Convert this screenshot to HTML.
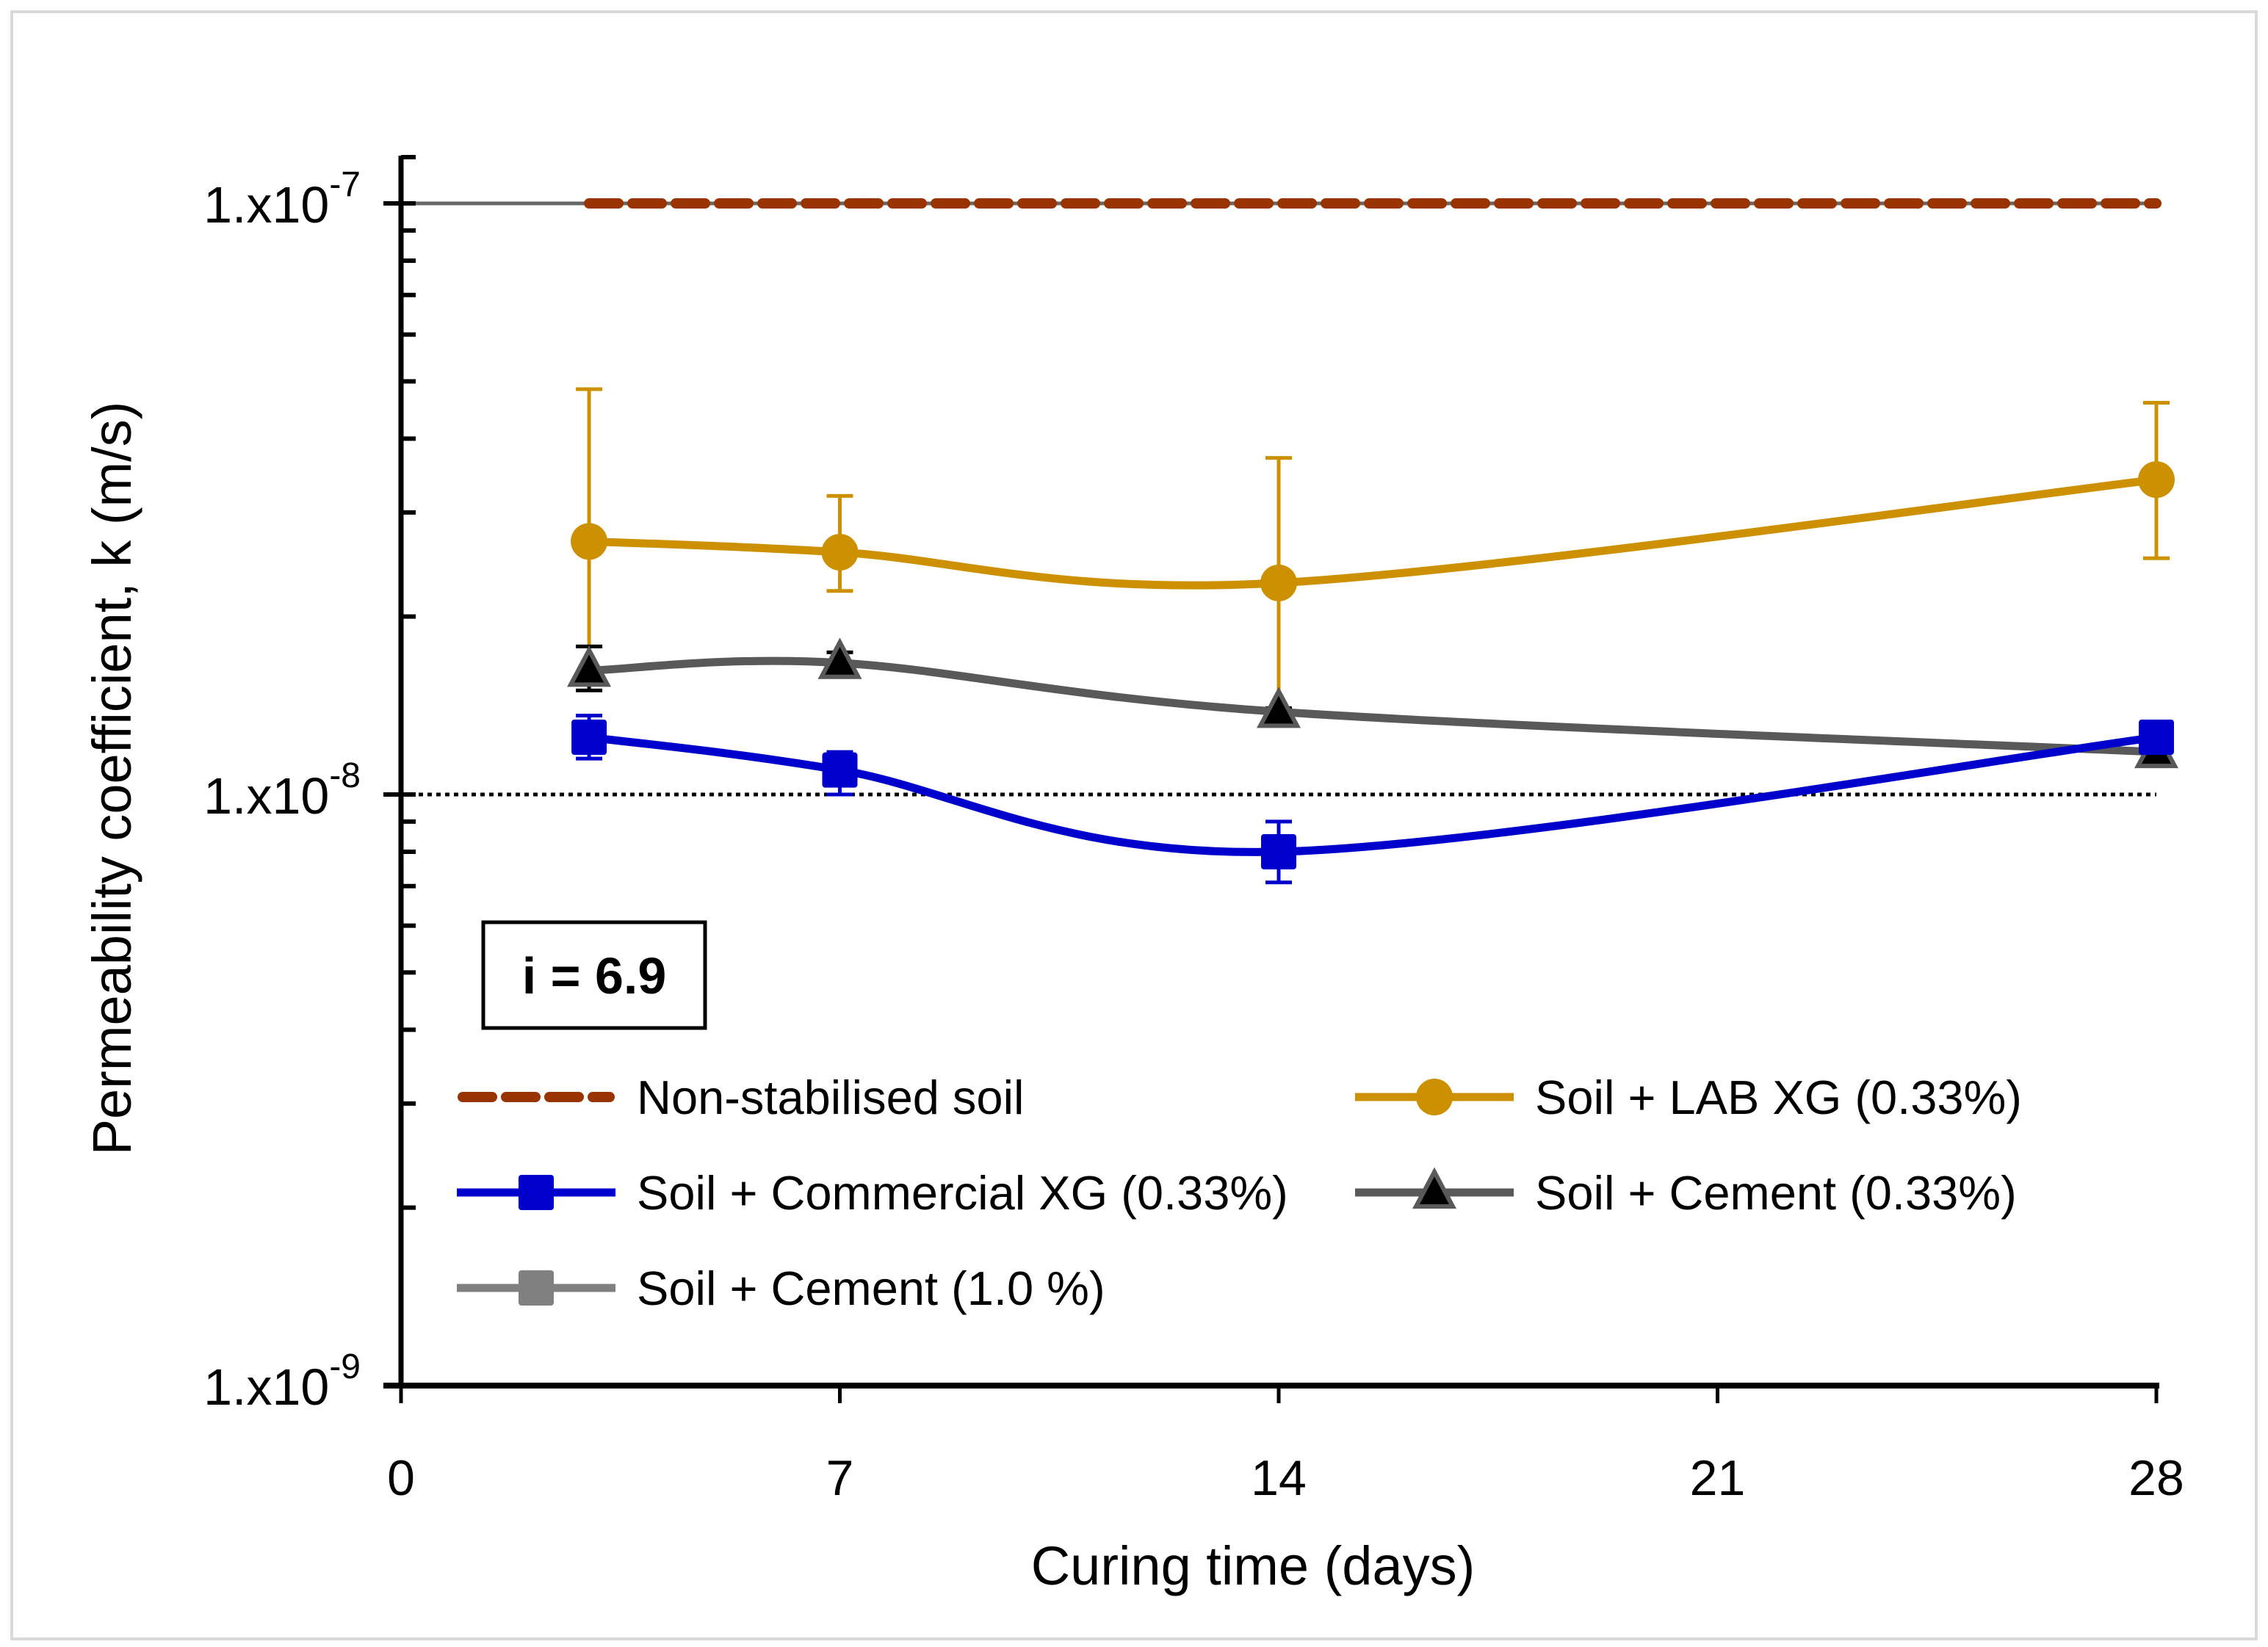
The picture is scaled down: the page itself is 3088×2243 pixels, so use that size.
<!DOCTYPE html>
<html><head><meta charset="utf-8"><style>
html,body{margin:0;padding:0;background:#fff;}
svg{display:block;font-family:"Liberation Sans",sans-serif;}
</style></head><body>
<svg id="chart" width="3088" height="2243" viewBox="0 0 3088 2243" xmlns="http://www.w3.org/2000/svg">
<rect x="16" y="16" width="3056" height="2216" fill="#fff" stroke="#d9d9d9" stroke-width="4"/>
<g id="grid"></g>
<g id="series"></g>
<g id="axes"></g>
<g>
<rect x="658" y="1256" width="302" height="144" fill="#fff" stroke="#000" stroke-width="5"/>
<text x="809" y="1353" text-anchor="middle" font-size="70" font-weight="bold">i = 6.9</text>
</g>
<g id="legend"></g>
<text x="1706" y="2158" text-anchor="middle" font-size="74">Curing time (days)</text>
<text transform="translate(178,1060) rotate(-90)" text-anchor="middle" font-size="74">Permeability coefficient, k (m/s)</text>
</svg>
<script>
const days = [3, 7, 14, 28];
const labXG = [2.68e-8, 2.57e-8, 2.28e-8, 3.41e-8];
const labXGHi = [4.85e-8, 3.2e-8, 3.71e-8, 4.6e-8];
const labXGLo = [1.78e-8, 2.21e-8, 1.38e-8, 2.51e-8];
const comXG = [1.25e-8, 1.10e-8, 8.0e-9, 1.25e-8];
const comXGHi = [1.36e-8, 1.18e-8, 9.0e-9, 1.29e-8];
const comXGLo = [1.15e-8, 1.0e-8, 7.1e-9, 1.21e-8];
const cem033 = [1.62e-8, 1.67e-8, 1.38e-8, 1.18e-8];
const cem033Hi = [1.78e-8, 1.74e-8, 1.40e-8, 1.20e-8];
const cem033Lo = [1.50e-8, 1.62e-8, 1.36e-8, 1.16e-8];
const nonStab = [1e-7, 1e-7, 1e-7, 1e-7];
const xTicks = [0, 7, 14, 21, 28];
const yDecades = [-9, -8, -7];
const yTickLabels = ["1.x10", "1.x10", "1.x10"];

const NS = "http://www.w3.org/2000/svg";
const X0 = 546, X1 = 2936, Y7 = 277, DEC = 805;
function xs(d){ return X0 + (d/28)*(X1-X0); }
function ys(v){ return Y7 + (-7 - Math.log10(v))*DEC; }
function mk(tag, attrs, parent){ const e=document.createElementNS(NS,tag); for(const k in attrs) e.setAttribute(k,attrs[k]); parent.appendChild(e); return e; }
const axes=document.getElementById('axes'), ser=document.getElementById('series'), grid=document.getElementById('grid'), leg=document.getElementById('legend');

let l=mk('line',{x1:xs(0),x2:xs(28),y1:ys(1e-7),y2:ys(1e-7),stroke:'#666',"stroke-width":5},grid);


l=mk('line',{x1:xs(0),x2:xs(28),y1:ys(1e-8),y2:ys(1e-8),stroke:'#000',"stroke-width":5,"stroke-dasharray":"6 6"},grid);



l=mk('line',{x1:X0,x2:X0,y1:212,y2:ys(1e-9)+2,stroke:'#000',"stroke-width":7},axes);


l=mk('line',{x1:X0-24,x2:X1+4,y1:ys(1e-9),y2:ys(1e-9),stroke:'#000',"stroke-width":8},axes);


mk('line',{x1:X0,x2:X0+20,y1:214,y2:214,stroke:'#000',"stroke-width":6},axes);
yDecades.forEach((d,i)=>{
  const y=ys(Math.pow(10,d));
  mk('line',{x1:X0-24,x2:X0+20,y1:y,y2:y,stroke:'#000',"stroke-width":6},axes);
  const t=mk('text',{x:491,y:y+26,"text-anchor":"end","font-size":70},axes);
  
  
  t.textContent=yTickLabels[i];
  const s=mk('tspan',{dy:-36,"font-size":48},t); s.textContent=String(d);
  if(d<-7){ for(let m=2;m<=9;m++){ const yy=ys(m*Math.pow(10,d)); mk('line',{x1:X0,x2:X0+20,y1:yy,y2:yy,stroke:'#000',"stroke-width":6},axes);} }
});
xTicks.forEach(t=>{
  const x=xs(t);
  mk('line',{x1:x,x2:x,y1:ys(1e-9),y2:ys(1e-9)+24,stroke:'#000',"stroke-width":5},axes);
  const tx=mk('text',{x:x,y:2036,"text-anchor":"middle","font-size":68},axes);
  
  
  tx.textContent=t;
});

function smoothPath(pts){
  let d=`M${pts[0][0]},${pts[0][1]}`;
  for(let i=0;i<pts.length-1;i++){
    const p0=pts[Math.max(0,i-1)],p1=pts[i],p2=pts[i+1],p3=pts[Math.min(pts.length-1,i+2)];
    const c1=[p1[0]+(p2[0]-p0[0])/6,p1[1]+(p2[1]-p0[1])/6];
    const c2=[p2[0]-(p3[0]-p1[0])/6,p2[1]-(p3[1]-p1[1])/6];
    d+=` C${c1[0]},${c1[1]} ${c2[0]},${c2[1]} ${p2[0]},${p2[1]}`;
  }
  return d;
}
function errBars(vals,hi,lo,color,w,name){
  days.forEach((d,i)=>{
    const x=xs(d);
    const g=mk('g',{stroke:color,"stroke-width":w},ser);
    
    
    mk('line',{x1:x,x2:x,y1:ys(hi[i]),y2:ys(lo[i])},g);
    mk('line',{x1:x-18,x2:x+18,y1:ys(hi[i]),y2:ys(hi[i])},g);
    mk('line',{x1:x-18,x2:x+18,y1:ys(lo[i]),y2:ys(lo[i])},g);
  });
}
function marker(kind,x,y,fill,stroke,parent){
  if(kind==='circle') return mk('circle',{cx:x,cy:y,r:25,fill:fill},parent);
  if(kind==='square') return mk('rect',{x:x-24,y:y-24,width:48,height:48,rx:4,fill:fill},parent);
  if(kind==='tri') return mk('polygon',{points:`${x},${y-28} ${x-25},${y+19} ${x+25},${y+19}`,fill:fill,stroke:stroke,"stroke-width":6},parent);
}
function series(vals,color,w,kind,mfill,mstroke,name){
  const pts=days.map((d,i)=>[xs(d),ys(vals[i])]);
  const p=mk('path',{d:smoothPath(pts),fill:'none',stroke:color,"stroke-width":w},ser);
  
  
  pts.forEach(pt=>{
    const m=marker(kind,pt[0],pt[1],mfill,mstroke,ser);
    
    
  });
}
const ns=mk('line',{x1:xs(days[0]),x2:xs(days[days.length-1]),y1:ys(nonStab[0]),y2:ys(nonStab[3]),stroke:'#993300',"stroke-width":14,"stroke-dasharray":"40 19","stroke-linecap":"round"},ser);



errBars(labXG,labXGHi,labXGLo,'#cc9000',5,'lab-xg');
errBars(cem033,cem033Hi,cem033Lo,'#000',5,'cement-033');
errBars(comXG,comXGHi,comXGLo,'#0000cc',5,'commercial-xg');
series(labXG,'#cc9000',11,'circle','#cc9000','none','lab-xg');
series(cem033,'#595959',11,'tri','#000','#595959','cement-033');
series(comXG,'#0000cc',11,'square','#0000cc','none','commercial-xg');

const entries=[
 {x:622,y:1494,t:'Non-stabilised soil',c:'#993300',dash:true,m:null},
 {x:1845,y:1494,t:'Soil + LAB XG (0.33%)',c:'#cc9000',m:'circle',f:'#cc9000'},
 {x:622,y:1624,t:'Soil + Commercial XG (0.33%)',c:'#0000cc',m:'square',f:'#0000cc'},
 {x:1845,y:1624,t:'Soil + Cement (0.33%)',c:'#595959',m:'tri',f:'#000',s:'#595959'},
 {x:622,y:1754,t:'Soil + Cement (1.0 %)',c:'#808080',m:'square',f:'#808080'}
];
entries.forEach(e=>{
  const g=mk('g',{},leg);
  
  
  if(e.dash) mk('line',{x1:e.x+8,x2:e.x+208,y1:e.y,y2:e.y,stroke:e.c,"stroke-width":14,"stroke-dasharray":"40 19","stroke-linecap":"round"},g);
  else { mk('line',{x1:e.x,x2:e.x+216,y1:e.y,y2:e.y,stroke:e.c,"stroke-width":11},g); marker(e.m,e.x+108,e.y,e.f,e.s||'none',g); }
  const t=mk('text',{x:e.x+245,y:e.y+23,"font-size":65},g);
  t.textContent=e.t;
});
</script>
</body></html>
